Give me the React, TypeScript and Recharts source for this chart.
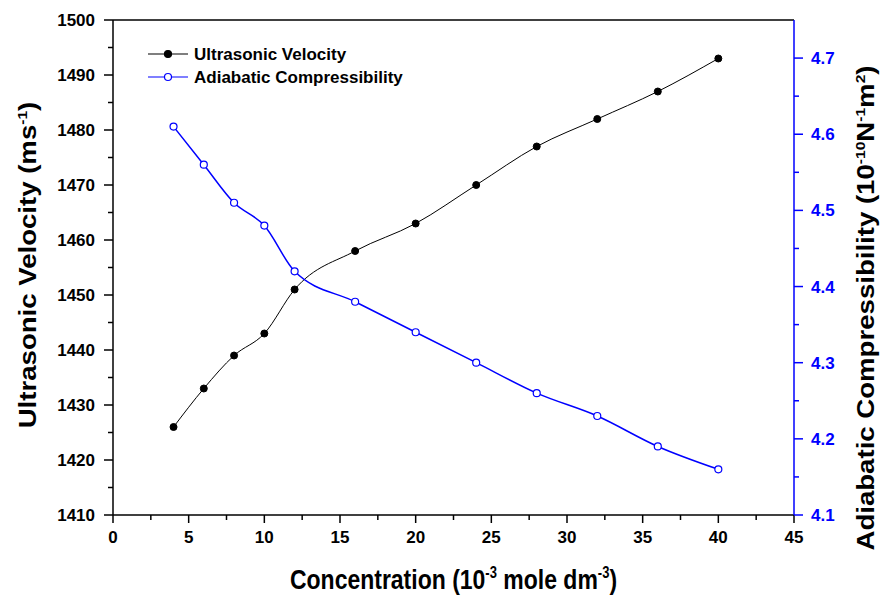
import React from 'react';
import { ComposedChart, Line, XAxis, YAxis, ReferenceLine, Label } from 'recharts';

const concentration = [4, 6, 8, 10, 12, 16, 20, 24, 28, 32, 36, 40];
const velocity = [1426, 1433, 1439, 1443, 1451, 1458, 1463, 1470, 1477, 1482, 1487, 1493];
const compressibility = [4.61, 4.56, 4.51, 4.48, 4.42, 4.38, 4.34, 4.3, 4.26, 4.23, 4.19, 4.16];

const xTicks = [0, 2.5, 5, 7.5, 10, 12.5, 15, 17.5, 20, 22.5, 25, 27.5, 30, 32.5, 35, 37.5, 40, 42.5, 45];
const leftTicks = [1410, 1415, 1420, 1425, 1430, 1435, 1440, 1445, 1450, 1455, 1460, 1465, 1470, 1475, 1480, 1485, 1490, 1495, 1500];
const rightTicks = [4.1, 4.15, 4.2, 4.25, 4.3, 4.35, 4.4, 4.45, 4.5, 4.55, 4.6, 4.65, 4.7];

const data = concentration.map((c, i) => ({
  c,
  velocity: velocity[i],
  compressibility: compressibility[i],
}));

const FONT = '"Liberation Sans", Arial, sans-serif';
const BLUE = '#0000ff';

const isMajor = (v: number, step: number) => Math.abs(v / step - Math.round(v / step)) < 1e-6;

const XTick = (props: any) => {
  const { x, y, payload } = props;
  const major = isMajor(payload.value, 5);
  return (
    <g>
      <line x1={x} x2={x} y1={y} y2={y + (major ? 8 : 5)} stroke="#000" strokeWidth={1.5} />
      {major && (
        <text x={x} y={y + 28} textAnchor="middle" fontFamily={FONT} fontWeight="bold" fontSize={17} fill="#000">
          {payload.value}
        </text>
      )}
    </g>
  );
};

const LeftTick = (props: any) => {
  const { x, y, payload } = props;
  const major = isMajor(payload.value, 10);
  return (
    <g>
      <line x1={x} x2={x - (major ? 9 : 5)} y1={y} y2={y} stroke="#000" strokeWidth={1.5} />
      {major && (
        <text x={x - 18} y={y + 6} textAnchor="end" fontFamily={FONT} fontWeight="bold" fontSize={17} fill="#000">
          {payload.value}
        </text>
      )}
    </g>
  );
};

const RightTick = (props: any) => {
  const { x, y, payload } = props;
  const major = isMajor(payload.value, 0.1);
  return (
    <g>
      <line x1={x} x2={x + (major ? 9 : 5)} y1={y} y2={y} stroke={BLUE} strokeWidth={1.5} />
      {major && (
        <text x={x + 17} y={y + 6} textAnchor="start" fontFamily={FONT} fontWeight="bold" fontSize={17} fill={BLUE}>
          {payload.value.toFixed(1)}
        </text>
      )}
    </g>
  );
};

const legendItems = [
  { name: 'Ultrasonic Velocity', color: '#000', filled: true },
  { name: 'Adiabatic Compressibility', color: BLUE, filled: false },
];

const LegendBox = () => (
  <svg width={300} height={50} style={{ position: 'absolute', left: 148, top: 42 }}>
    {legendItems.map((it, i) => (
      <g key={it.name} transform={`translate(0, ${12 + i * 23})`}>
        <line x1={0} x2={40} y1={0} y2={0} stroke={it.color} strokeWidth={1.2} />
        <circle cx={20} cy={0} r={3.5} fill={it.filled ? it.color : '#fff'} stroke={it.color} strokeWidth={1.2} />
        <text x={46} y={6} fontFamily={FONT} fontWeight="bold" fontSize={17} fill="#000">
          {it.name}
        </text>
      </g>
    ))}
  </svg>
);

export default function App() {
  return (
    <div style={{ position: 'absolute', left: 0, top: 0, width: 881, height: 598, background: '#fff' }}>
      <ComposedChart width={881} height={598} data={data} margin={{ top: 20, right: 0, bottom: 0, left: 0 }}>
        <XAxis
          type="number"
          dataKey="c"
          domain={[0, 45]}
          ticks={xTicks}
          interval={0}
          height={83}
          tickSize={0}
          tickMargin={0}
          tick={<XTick />}
          axisLine={{ stroke: '#000', strokeWidth: 1.5 }}
        >
          <Label
            content={({ viewBox }: any) => {
              const cx = viewBox.x + viewBox.width / 2;
              const cy = 589;
              return (
                <text
                  transform={`translate(${cx}, ${cy}) scale(1, 1.2)`}
                  textAnchor="middle"
                  fontFamily={FONT}
                  fontWeight="bold"
                  fontSize={23}
                  fill="#000"
                >
                  Concentration (10<tspan dy={-9} fontSize={13}>-3</tspan>
                  <tspan dy={9}> mole dm</tspan>
                  <tspan dy={-9} fontSize={13}>-3</tspan>
                  <tspan dy={9}>)</tspan>
                </text>
              );
            }}
          />
        </XAxis>
        <YAxis
          yAxisId="left"
          orientation="left"
          domain={[1410, 1500]}
          ticks={leftTicks}
          interval={0}
          width={113}
          tickSize={0}
          tickMargin={0}
          tick={<LeftTick />}
          axisLine={{ stroke: '#000', strokeWidth: 1.5 }}
        >
          <Label
            content={() => {
              const cx = 36;
              const cy = 265;
              return (
                <text
                  transform={`translate(${cx}, ${cy}) rotate(-90) scale(1.2, 1)`}
                  textAnchor="middle"
                  fontFamily={FONT}
                  fontWeight="bold"
                  fontSize={23}
                  fill="#000"
                >
                  Ultrasonic Velocity (ms<tspan dy={-9} fontSize={13}>-1</tspan>
                  <tspan dy={9}>)</tspan>
                </text>
              );
            }}
          />
        </YAxis>
        <YAxis
          yAxisId="right"
          orientation="right"
          domain={[4.1, 4.75]}
          ticks={rightTicks}
          interval={0}
          width={87}
          tickSize={0}
          tickMargin={0}
          tick={<RightTick />}
          axisLine={{ stroke: BLUE, strokeWidth: 1.5 }}
        >
          <Label
            content={() => {
              const cx = 874;
              const cy = 308;
              return (
                <text
                  transform={`translate(${cx}, ${cy}) rotate(-90) scale(1.2, 1)`}
                  textAnchor="middle"
                  fontFamily={FONT}
                  fontWeight="bold"
                  fontSize={23}
                  fill="#000"
                >
                  Adiabatic Compressibility (10<tspan dy={-9} fontSize={13}>-10</tspan>
                  <tspan dy={9}>N</tspan>
                  <tspan dy={-9} fontSize={13}>-1</tspan>
                  <tspan dy={9}>m</tspan>
                  <tspan dy={-9} fontSize={13}>2</tspan>
                  <tspan dy={9}>)</tspan>
                </text>
              );
            }}
          />
        </YAxis>
        <ReferenceLine yAxisId="left" y={1500} stroke="#000" strokeWidth={1.5} ifOverflow="visible" />
        <Line
          yAxisId="left"
          type="monotone"
          dataKey="velocity"
          name="Ultrasonic Velocity"
          stroke="#000"
          strokeWidth={1}
          dot={{ r: 3.5, fill: '#000', stroke: '#000', strokeWidth: 1 }}
          isAnimationActive={false}
        />
        <Line
          yAxisId="right"
          type="monotone"
          dataKey="compressibility"
          name="Adiabatic Compressibility"
          stroke={BLUE}
          strokeWidth={1.5}
          dot={{ r: 3.5, fill: '#fff', stroke: BLUE, strokeWidth: 1.2 }}
          isAnimationActive={false}
        />
      </ComposedChart>
      <LegendBox />
    </div>
  );
}
